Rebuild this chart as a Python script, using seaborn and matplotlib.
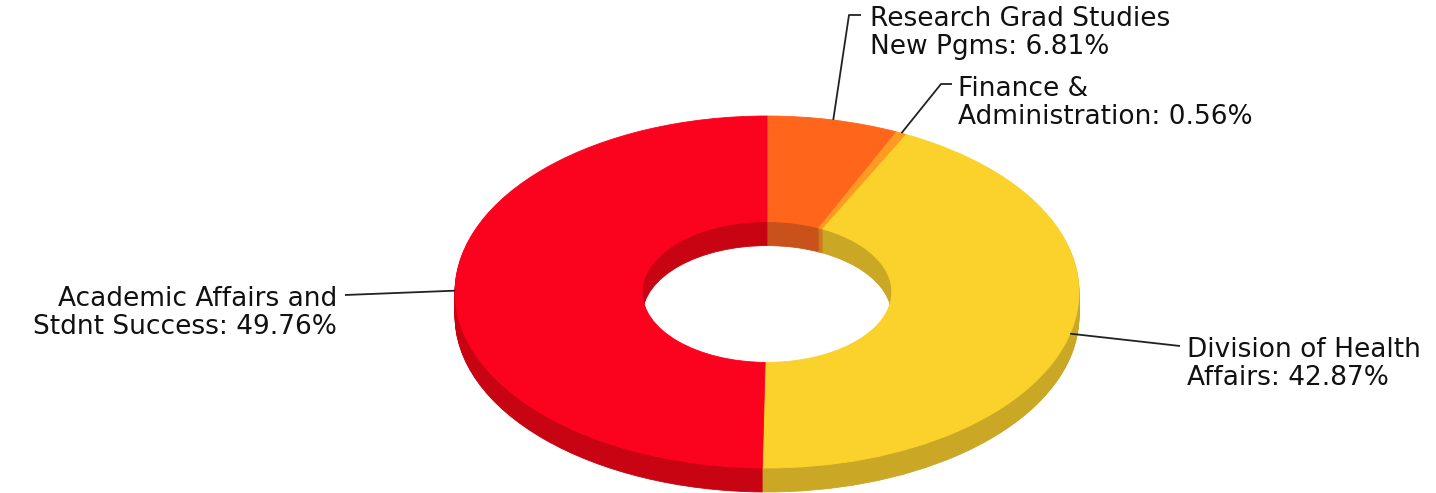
import numpy as np
import seaborn as sns
import matplotlib
matplotlib.use("Agg")
import matplotlib.pyplot as plt

# slices, clockwise from 12 o'clock
labels = ["Research Grad Studies\nNew Pgms", "Finance &\nAdministration",
          "Division of Health\nAffairs", "Academic Affairs and\nStdnt Success"]
shares = [6.81, 0.56, 42.87, 49.76]
top_colors = ["#FF661C", "#FF9A22", "#FBD22C", "#FB031E"]
side_colors = ["#C9521A", "#CC7A1B", "#CAA826", "#C80413"]

sns.set_theme(style="white")
plt.rcParams["font.family"] = ["DejaVu Sans"]

W, H = 1436, 493
fig = plt.figure(figsize=(W / 100, H / 100), dpi=100)
ax = fig.add_axes([0, 0, 1, 1])

# pixel layout of the ring: centre, horizontal and vertical radius, depth
cx, cy, rx, ry, depth = 767, 292, 312, 176, 24


def px(x, y):
    return (x - cx) / rx, (cy - y) / ry


# extruded side: stack darker rings going down, then the top ring
for k in range(depth, 0, -1):
    wedges, _ = ax.pie(shares, colors=side_colors, startangle=90, counterclock=False,
                       radius=1.0, center=(0, -k / ry),
                       wedgeprops=dict(width=0.6, linewidth=0))
    for w in wedges:
        w.set_edgecolor(w.get_facecolor())
        w.set_linewidth(0.6)

wedges, _ = ax.pie(shares, colors=top_colors, startangle=90, counterclock=False,
                   radius=1.0, center=(0, 0),
                   wedgeprops=dict(width=0.6, linewidth=0))
for w in wedges:
    w.set_edgecolor(w.get_facecolor())
    w.set_linewidth(0.6)

ax.set_aspect("auto")
ax.set_xlim(-cx / rx, (W - cx) / rx)
ax.set_ylim(-(H - cy) / ry, cy / ry)
ax.axis("off")

# label anchors at mid-angle of each slice on the outer rim
cum = np.cumsum([0] + shares[:-1])
mids = 90 - (cum + np.array(shares) / 2) * 3.6
anchors = [(np.cos(np.radians(a)), np.sin(np.radians(a))) for a in mids]

# leader routes (pixels) and text placement
routes = [
    [(849, 15), (861, 15)],
    [(941, 84), (952, 84)],
    [(1180, 346)],
    [(345, 295)],
]
text_pos = [(870, 33, "left"), (958, 103, "left"), (1187, 364, "left"), (337, 313, "right")]

for lab, val, anc, route, (tx, ty, ha) in zip(labels, shares, anchors, routes, text_pos):
    pts = [anc] + [px(*p) for p in route]
    xs, ys = zip(*pts)
    ax.plot(xs, ys, color="#222222", lw=1.3, solid_capstyle="butt")
    x, y = px(tx, ty)
    ax.text(x, y, f"{lab}: {val:.2f}%", ha=ha, va="center", fontsize=19,
            color="#111111", linespacing=1.08)

fig.savefig("out.png", dpi=100)
